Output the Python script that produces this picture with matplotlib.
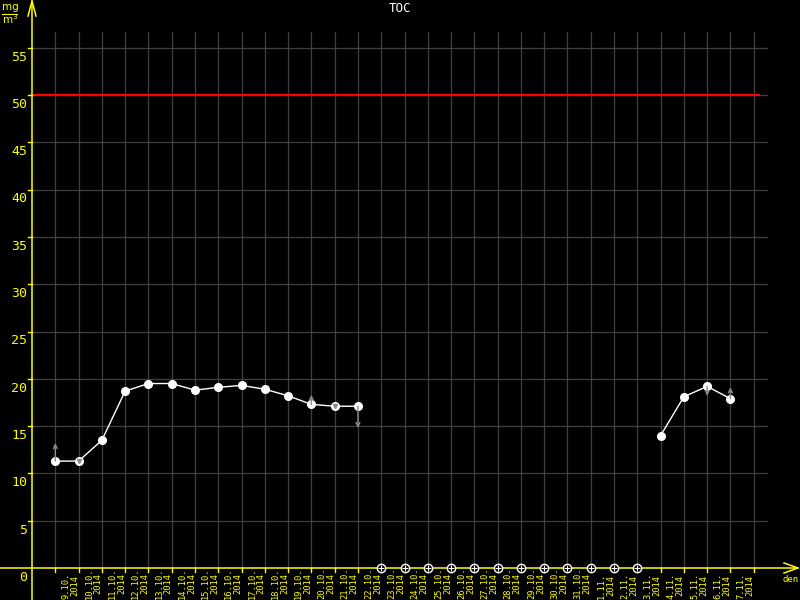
import numpy as np
import matplotlib
matplotlib.use("Agg")
import matplotlib.pyplot as plt

# daily TOC values, 9.10.2014 - 7.11.2014 (None = no measurement)
days = ['9.10.', '10.10.', '11.10.', '12.10.', '13.10.', '14.10.', '15.10.',
        '16.10.', '17.10.', '18.10.', '19.10.', '20.10.', '21.10.', '22.10.',
        '23.10.', '24.10.', '25.10.', '26.10.', '27.10.', '28.10.', '29.10.',
        '30.10.', '31.10.', '1.11.', '2.11.', '3.11.', '4.11.', '5.11.',
        '6.11.', '7.11.']
year = '2014'
toc = [11.3, 11.3, 13.5, 18.7, 19.5, 19.5, 18.8, 19.1, 19.3, 18.9, 18.2,
       17.3, 17.1, 17.1, None, None, None, None, None, None, None, None,
       None, None, None, None, 14.0, 18.1, 19.2, 17.9]
limit = 50
yticks = list(range(0, 60, 5))
# trend arrows (day index, arrow tip value)
arrow_idx = [0, 11, 13, 28, 29]
arrow_tip = [13.2, 18.3, 14.8, 18.2, 19.1]
small_mark_idx = [1, 12]

# pixel geometry of the original picture
x0, dx = 55.3, 23.28
y0, dy = 568.0, 9.46

def px_x(p):
    return (p - x0) / dx

def px_y(p):
    return (y0 - p) / dy

YEL = '#ffff00'
GRID = '#404040'
GRAY = '#8c8c8c'

fig = plt.figure(figsize=(8, 6), dpi=100, facecolor='black')
ax = fig.add_axes([0, 0, 1, 1])
ax.set_facecolor('black')
ax.set_xlim(px_x(0), px_x(800))
ax.set_ylim(px_y(600), px_y(0))
ax.axis('off')

n = len(days)
xs = np.arange(n)
xaxis_x = px_x(32)

# grid
for v in yticks[1:]:
    ax.plot([xaxis_x, px_x(766.5)], [v, v], color=GRID, lw=0.9, zorder=1)
for i in range(n + 1):
    ax.plot([i, i], [0, px_y(32)], color=GRID, lw=0.9, zorder=1)

# limit line
ax.plot([xaxis_x, px_x(759)], [limit, limit], color='#ff0000', lw=1.6, zorder=2)

# axes
ax.plot([xaxis_x, xaxis_x], [px_y(600), px_y(1)], color=YEL, lw=1.1, zorder=5)
ax.plot([px_x(28), xaxis_x, px_x(36)], [px_y(16), px_y(1), px_y(16)],
        color=YEL, lw=1.1, zorder=5)
ax.plot([px_x(0), px_x(798)], [0, 0], color=YEL, lw=1.1, zorder=5)
ax.plot([px_x(784), px_x(798), px_x(784)], [px_y(563), 0, px_y(573)],
        color=YEL, lw=1.1, zorder=5)

# y ticks and labels
for v in yticks:
    if v > 0:
        ax.plot([px_x(28), xaxis_x], [v, v], color=YEL, lw=1.0, zorder=5)
    ax.text(px_x(27), v - 0.3, str(v), color=YEL, fontsize=9.5,
            family='DejaVu Sans Mono', ha='right', va='top')

# x ticks and labels
for i, d in enumerate(days):
    ax.plot([i, i], [0, px_y(572)], color=YEL, lw=1.0, zorder=5)
    ax.text(i + 0.65, px_y(599), d + '\n' + year, color=YEL, fontsize=6.3,
            family='DejaVu Sans Mono', rotation=90, ha='center', va='bottom',
            linespacing=1.0)
ax.plot([n, n], [0, px_y(572)], color=YEL, lw=1.0, zorder=5)

# data
vals = np.array([np.nan if v is None else v for v in toc], dtype=float)
ax.plot(xs, vals, color='white', lw=1.0, marker='o', ms=5.5,
        mec='white', mfc='white', zorder=6)

# days without value -> marker on zero line
miss = xs[np.isnan(vals)]
ax.plot(miss, np.zeros(len(miss)), ls='none', marker='o', ms=6,
        mfc='black', mec='white', mew=1.0, zorder=7)
ax.plot(miss, np.zeros(len(miss)), ls='none', marker='+', ms=5,
        mec='white', mew=0.8, zorder=8)

# trend arrows
for i, t in zip(arrow_idx, arrow_tip):
    ax.annotate('', xy=(i, t), xytext=(i, vals[i]),
                arrowprops=dict(arrowstyle='->', color=GRAY, lw=1.0,
                                shrinkA=0, shrinkB=0,
                                mutation_scale=7), zorder=7)
ax.plot(small_mark_idx, vals[small_mark_idx], ls='none', marker='v',
        ms=3, color=GRAY, zorder=7)

# titles
ax.text(px_x(400), px_y(9), 'TOC', color='white', fontsize=9,
        family='DejaVu Sans Mono', ha='center', va='center')
ax.text(px_x(10), px_y(7), 'mg', color=YEL, fontsize=7.5,
        family='DejaVu Sans', ha='center', va='center')
ax.plot([px_x(2), px_x(17)], [px_y(13.5), px_y(13.5)], color=YEL, lw=0.8)
ax.text(px_x(10), px_y(19), 'm$^3$', color=YEL, fontsize=7.5,
        family='DejaVu Sans', ha='center', va='center')
ax.text(px_x(791), px_y(580), 'den', color=YEL, fontsize=6.5,
        family='DejaVu Sans Mono', ha='center', va='center')

fig.savefig('out.png', dpi=100, facecolor='black')
